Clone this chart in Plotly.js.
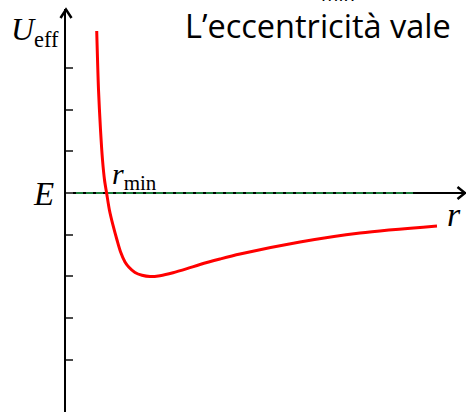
<!DOCTYPE html>
<html>
<head>
<meta charset="utf-8">
<script src="https://cdn.plot.ly/plotly-3.0.1.min.js"></script>
<style>
  html, body { margin: 0; padding: 0; background: #ffffff; }
  #chart { width: 466px; height: 412px; }
</style>
</head>
<body>
<div id="chart"></div>
<script>
// Effective potential U_eff(r) with the energy level E and the turning point r_min
const rValues = [0.768, 0.813, 0.863, 0.913, 0.963, 1.015, 1.085, 1.173, 1.275, 1.365, 1.475, 1.568, 1.725, 1.900, 2.100, 2.350, 2.675, 3.025, 3.350, 3.850, 4.350, 5.850, 7.350, 9.275];
const uValues = [3.885, 2.470, 1.511, 0.791, 0.312, 0.000, -0.408, -0.767, -1.127, -1.415, -1.655, -1.775, -1.906, -1.974, -2.005, -1.983, -1.914, -1.815, -1.715, -1.583, -1.463, -1.175, -0.959, -0.791];

// Energy level line
const levelR = [0, 8.72];
const levelE = [0, 0];

// Tick marks on the potential axis (no labels)
const uTicks = [-4, -3, -2, -1, 0, 1, 2, 3];

// Page geometry helpers: pixel position -> paper fraction
const W = 466, H = 412;
const M = { l: 66, r: 0, t: 9, b: 0 };
const PW = W - M.l - M.r, PH = H - M.t - M.b;
const px = x => (x - M.l) / PW;
const py = y => (H - M.b - y) / PH;

const serif = 'Liberation Serif, Times New Roman, serif';

const traces = [
  {
    x: levelR, y: levelE, type: 'scatter', mode: 'lines',
    line: { color: '#1b7d3b', width: 2, dash: '7px,3px' },
    hoverinfo: 'skip'
  },
  {
    x: rValues, y: uValues, type: 'scatter', mode: 'lines',
    line: { color: '#ff0000', width: 3, shape: 'spline', smoothing: 0.8 },
    hoverinfo: 'skip'
  }
];

const chevron = (x0, y0, x1, y1, x2, y2) =>
  `M ${px(x0)},${py(y0)} L ${px(x1)},${py(y1)} L ${px(x2)},${py(y2)}`;

const layout = {
  width: W, height: H,
  margin: M,
  paper_bgcolor: '#ffffff',
  plot_bgcolor: '#ffffff',
  showlegend: false,
  xaxis: {
    range: [0, 10],
    showgrid: false, zeroline: false, showline: false,
    showticklabels: false, ticks: ''
  },
  yaxis: {
    range: [-5.252, 4.412],
    showgrid: false,
    showline: true, linecolor: '#000000', linewidth: 2,
    zeroline: true, zerolinecolor: '#000000', zerolinewidth: 2,
    ticks: 'inside', ticklen: 7, tickwidth: 2, tickcolor: '#4a4a4a',
    tickmode: 'array', tickvals: uTicks, showticklabels: false
  },
  shapes: [
    { type: 'path', xref: 'paper', yref: 'paper',
      path: chevron(60.5, 18, 66, 9.5, 71.5, 18),
      line: { color: '#000000', width: 2.5 } },
    { type: 'path', xref: 'paper', yref: 'paper',
      path: chevron(457.5, 187, 465, 193, 457.5, 199),
      line: { color: '#000000', width: 2.5 } }
  ],
  annotations: [
    { xref: 'paper', yref: 'paper', x: px(9), y: py(32), xanchor: 'left', yanchor: 'middle',
      text: '<i>U</i><sub>eff</sub>', showarrow: false,
      font: { family: serif, size: 32, color: '#000000' } },
    { xref: 'paper', yref: 'paper', x: px(31), y: py(194), xanchor: 'left', yanchor: 'middle',
      text: '<i>E</i>', showarrow: false,
      font: { family: serif, size: 33, color: '#000000' } },
    { xref: 'paper', yref: 'paper', x: px(110), y: py(176), xanchor: 'left', yanchor: 'middle',
      text: '<i>r</i><sub>min</sub>', showarrow: false,
      font: { family: serif, size: 30, color: '#000000' } },
    { xref: 'paper', yref: 'paper', x: px(445), y: py(214), xanchor: 'left', yanchor: 'middle',
      text: '<i>r</i>', showarrow: false,
      font: { family: serif, size: 34, color: '#000000' } },
    { xref: 'paper', yref: 'paper', x: px(183), y: py(26), xanchor: 'left', yanchor: 'middle',
      text: 'L\u2019eccentricità vale', showarrow: false,
      font: { family: 'Open Sans, sans-serif', size: 32.5, color: '#000000' } },
    { xref: 'paper', yref: 'paper', x: px(320), y: py(-7), xanchor: 'left', yanchor: 'middle',
      text: '<i>min</i>', showarrow: false,
      font: { family: 'Open Sans, sans-serif', size: 20, color: '#000000' } }
  ]
};

Plotly.newPlot('chart', traces, layout, { staticPlot: true, displayModeBar: false });
</script>
</body>
</html>
